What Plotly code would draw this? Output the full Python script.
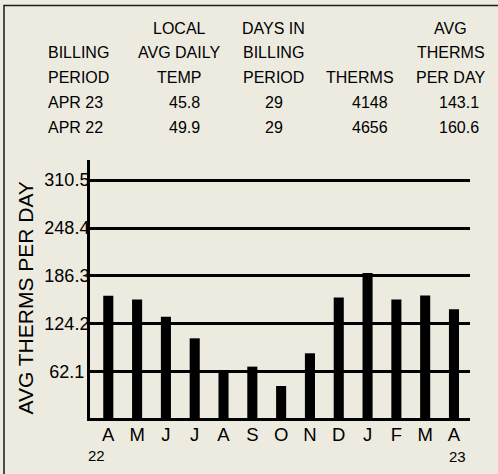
import plotly.graph_objects as go

# ---------------- data ----------------
months = ["A", "M", "J", "J", "A", "S", "O", "N", "D", "J", "F", "M", "A"]
avg_therms = [160.6, 155.6, 133.5, 105.4, 62.2, 68.7, 43.6, 86.0, 158.2, 190.1, 155.6, 160.8, 143.1]
year_labels = ["22", "23"]
y_ticks = [62.1, 124.2, 186.3, 248.4, 310.5]
y_tick_labels = ["62.1", "124.2", "186.3", "248.4", "310.5"]

header_row1 = ["", "LOCAL", "DAYS IN", "", "AVG"]
header_row2 = ["BILLING", "AVG DAILY", "BILLING", "", "THERMS"]
header_row3 = ["PERIOD", "TEMP", "PERIOD", "THERMS", "PER DAY"]
billing_periods = ["APR 23", "APR 22"]
avg_daily_temp = ["45.8", "49.9"]
days_in_period = ["29", "29"]
therms = ["4148", "4656"]
avg_therms_per_day = ["143.1", "160.6"]

# ---------------- layout constants ----------------
W, H = 498, 474
L, R, T, B = 90, 28, 160, 53
PW, PH = W - L - R, H - T - B
BG = "#EDEBE0"
FONT = "Liberation Sans, Arial, sans-serif"
INK = "#000000"


def px(x):
    return (x - L) / PW


def py(y):
    return (H - B - y) / PH


x_idx = list(range(len(months)))

fig = go.Figure()
fig.add_trace(go.Bar(
    x=x_idx, y=avg_therms, width=0.35,
    marker=dict(color="#000000", line=dict(width=0)),
    hoverinfo="skip",
))

annotations = []

# table
header_cols = [46, 179, 273.5, 360, 450.5]
value_cols = [46, 184, 273.5, 369.5, 459]
row_y = [28, 52.5, 77.5, 102.5, 127]
for r, row in enumerate([header_row1, header_row2, header_row3]):
    for c, txt in enumerate(row):
        if not txt:
            continue
        annotations.append(dict(
            text=txt, xref="paper", yref="paper",
            x=px(header_cols[c]), y=py(row_y[r]),
            xanchor="left" if c == 0 else "center", yanchor="middle",
            showarrow=False, font=dict(size=16, color=INK, family=FONT),
        ))
value_rows = list(zip(billing_periods, avg_daily_temp, days_in_period, therms, avg_therms_per_day))
for r, row in enumerate(value_rows):
    for c, txt in enumerate(row):
        annotations.append(dict(
            text=txt, xref="paper", yref="paper",
            x=px(value_cols[c]), y=py(row_y[3 + r]),
            xanchor="left" if c == 0 else "center", yanchor="middle",
            showarrow=False, font=dict(size=16, color=INK, family=FONT),
        ))

# y-axis title
annotations.append(dict(
    text="AVG THERMS PER DAY", xref="paper", yref="paper",
    x=px(25), y=py(298.5), xanchor="center", yanchor="middle",
    textangle=-90, showarrow=False, font=dict(size=21, color=INK, family=FONT),
))

# year labels under first and last month
annotations.append(dict(
    text=year_labels[0], xref="x", yref="paper",
    x=x_idx[0] - 0.41, y=py(455.5), xanchor="center", yanchor="middle",
    showarrow=False, font=dict(size=15, color=INK, family=FONT),
))
annotations.append(dict(
    text=year_labels[1], xref="x", yref="paper",
    x=x_idx[-1] + 0.125, y=py(456), xanchor="center", yanchor="middle",
    showarrow=False, font=dict(size=15, color=INK, family=FONT),
))

shapes = [dict(
    type="rect", xref="paper", yref="paper",
    x0=px(4), y0=py(5.5), x1=px(530), y1=py(520),
    line=dict(color="#1a1a1a", width=1.5), layer="below",
)]

fig.update_layout(
    width=W, height=H,
    margin=dict(l=L, r=R, t=T, b=B, pad=0),
    paper_bgcolor=BG, plot_bgcolor=BG,
    showlegend=False,
    font=dict(family=FONT, color=INK),
    annotations=annotations,
    shapes=shapes,
    xaxis=dict(
        range=[-0.635, 12.556], tickmode="array", tickvals=x_idx, ticktext=months,
        showgrid=False, zeroline=False, showline=False, ticks="",
        tickfont=dict(size=18.5, color=INK, family=FONT),
    ),
    yaxis=dict(
        range=[-1.8, 336.6], tickmode="array", tickvals=y_ticks,
        ticktext=[t if len(t) > 4 else t + "&nbsp;" for t in y_tick_labels],
        showgrid=True, gridcolor="#000000", gridwidth=3,
        zeroline=True, zerolinecolor="#000000", zerolinewidth=3,
        showline=True, linecolor="#000000", linewidth=3,
        ticks="", ticklabelstandoff=-6,
        tickfont=dict(size=18, color=INK, family=FONT),
    ),
)

fig.write_html(
    "out.html",
    config={"displayModeBar": False, "staticPlot": True},
    post_script="document.body.style.margin='0';document.body.style.overflow='hidden';",
)
